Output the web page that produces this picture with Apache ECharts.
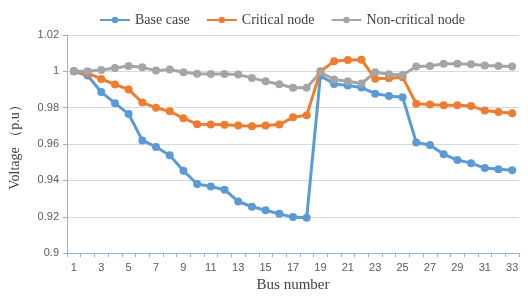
<!DOCTYPE html>
<html>
<head>
<meta charset="utf-8">
<script src="https://cdn.jsdelivr.net/npm/echarts@6/dist/echarts.min.js"></script>
<style>html,body{margin:0;padding:0;background:#fff}#c{width:528px;height:298px}</style>
</head>
<body>
<div id="c"></div>
<script>
var buses = [];
for (var i = 1; i <= 33; i++) buses.push(String(i));
var seriesNames = ['Base case', 'Critical node', 'Non-critical node'];
var baseCase = [1.0, 0.9977, 0.9886, 0.9825, 0.9765, 0.962, 0.9584, 0.9538, 0.9453, 0.938, 0.9366, 0.9349, 0.9284, 0.9255, 0.9236, 0.9216, 0.9198, 0.9195, 0.9976, 0.9931, 0.9922, 0.9911, 0.9877, 0.9865, 0.9858, 0.9609, 0.9595, 0.9544, 0.9512, 0.9495, 0.9468, 0.9461, 0.9456];
var criticalNode = [1.0, 0.999, 0.9958, 0.9928, 0.990, 0.9828, 0.980, 0.978, 0.9742, 0.9709, 0.9708, 0.9706, 0.9702, 0.9698, 0.9702, 0.9707, 0.9747, 0.9758, 1.0, 1.0055, 1.0062, 1.0064, 0.9959, 0.9962, 0.9968, 0.9822, 0.9818, 0.9814, 0.9814, 0.981, 0.9784, 0.9776, 0.977];
var nonCriticalNode = [1.0, 1.0, 1.0007, 1.0018, 1.003, 1.0022, 1.0004, 1.001, 0.9995, 0.9987, 0.9986, 0.9986, 0.9982, 0.9964, 0.9945, 0.9929, 0.991, 0.991, 0.9995, 0.9955, 0.9945, 0.9933, 0.9995, 0.9984, 0.998, 1.0027, 1.003, 1.0042, 1.0042, 1.0039, 1.0032, 1.003, 1.0027];
var colors = ['#5B9BD5', '#ED7D31', '#A5A5A5'];
var allData = [baseCase, criticalNode, nonCriticalNode];

var chart = echarts.init(document.getElementById('c'));
var series = seriesNames.map(function (n, i) {
  return {
    name: n, type: 'line', data: allData[i],
    symbol: 'circle', symbolSize: 8, showSymbol: true,
    lineStyle: {width: 3, color: colors[i]},
    itemStyle: {color: colors[i]},
    z: i === 0 ? 2 : (i === 1 ? 3 : 4),
    animation: false
  };
});
chart.setOption({
  animation: false,
  color: colors,
  legend: {
    top: 8, left: 94,
    itemWidth: 30, itemHeight: 8, itemGap: 16,
    textStyle: {fontFamily: 'Liberation Serif', fontSize: 14, color: '#404040'},
    data: seriesNames
  },
  grid: {left: 61, right: 9, top: 35, bottom: 41},
  xAxis: {
    type: 'category', data: buses, boundaryGap: true,
    name: 'Bus number', nameLocation: 'middle', nameGap: 23,
    nameTextStyle: {fontFamily: 'Liberation Serif', fontSize: 15, color: '#404040'},
    axisLine: {lineStyle: {color: '#8DB3E2', width: 1}},
    axisTick: {show: true, interval: 0, length: 4, lineStyle: {color: '#8DB3E2'}},
    axisLabel: {interval: 1, fontFamily: 'Liberation Sans', fontSize: 11, color: '#595959', margin: 9}
  },
  yAxis: {
    type: 'value', min: 0.9, max: 1.02, interval: 0.02,
    name: 'Voltage （p.u）', nameLocation: 'middle', nameGap: 45, nameRotate: 90,
    nameTextStyle: {fontFamily: 'Liberation Serif', fontSize: 14, color: '#404040'},
    axisLine: {show: true, lineStyle: {color: '#8DB3E2', width: 1}},
    axisTick: {show: true, length: 4, lineStyle: {color: '#8DB3E2'}},
    axisLabel: {fontFamily: 'Liberation Sans', fontSize: 11, color: '#595959', margin: 8,
      formatter: function (v) { return String(parseFloat(v.toFixed(2))); }},
    splitLine: {lineStyle: {color: '#D9D9D9', width: 1}}
  },
  series: series
});
</script>
</body>
</html>
